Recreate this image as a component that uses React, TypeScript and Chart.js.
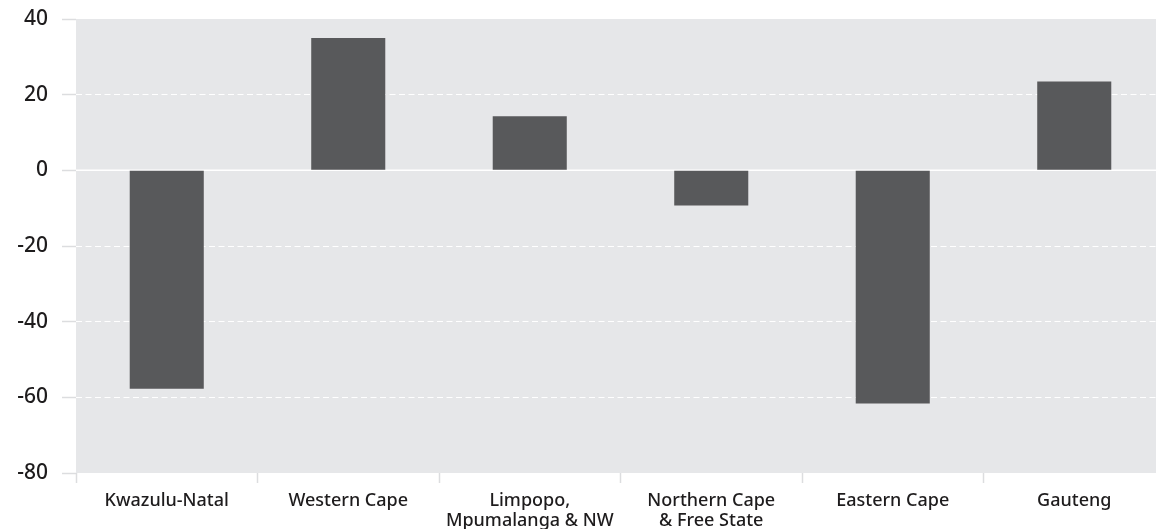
import React, { useEffect, useRef } from 'react';
import { Chart, registerables } from 'chart.js';

Chart.register(...registerables);

const categories: (string | string[])[] = [
  'Kwazulu-Natal',
  'Western Cape',
  ['Limpopo,', 'Mpumalanga & NW'],
  ['Northern Cape', '& Free State'],
  'Eastern Cape',
  'Gauteng',
];
const values = [-57.7, 35.0, 14.3, -9.3, -61.6, 23.5];
const yMin = -80;
const yMax = 40;
const yStep = 20;

const PLOT_BG = '#e6e7e9';
const BAR = '#58595b';
const TEXT = '#1e1c1d';
const TICK = '#dcdddf';
const FONT = '"Noto Sans", sans-serif';

const bgPlugin = {
  id: 'plotBg',
  beforeDraw(chart: any) {
    const { ctx, chartArea } = chart;
    ctx.save();
    ctx.fillStyle = PLOT_BG;
    ctx.fillRect(chartArea.left, chartArea.top, chartArea.right - chartArea.left, chartArea.bottom - chartArea.top);
    ctx.restore();
  },
};

const zeroLinePlugin = {
  id: 'zeroLine',
  beforeDatasetsDraw(chart: any) {
    const { ctx, chartArea } = chart;
    const y = chart.scales.y.getPixelForValue(0);
    ctx.save();
    ctx.strokeStyle = '#ffffff';
    ctx.lineWidth = 1.5;
    ctx.beginPath();
    ctx.moveTo(chartArea.left, y);
    ctx.lineTo(chartArea.right, y);
    ctx.stroke();
    ctx.restore();
  },
};

export default function App() {
  const ref = useRef<HTMLCanvasElement>(null);
  useEffect(() => {
    if (!ref.current) return;
    const chart = new Chart(ref.current, {
      type: 'bar',
      data: {
        labels: categories as any,
        datasets: [
          {
            data: values,
            backgroundColor: BAR,
            borderWidth: 0,
            barPercentage: 0.408,
            categoryPercentage: 1,
          },
        ],
      },
      options: {
        responsive: false,
        animation: false,
        layout: { padding: { top: 19, left: 0, right: 0, bottom: 0 } },
        plugins: { legend: { display: false }, tooltip: { enabled: false } },
        scales: {
          x: {
            grid: {
              offset: true,
              drawOnChartArea: false,
              drawTicks: true,
              tickLength: 10,
              tickColor: TICK,
              tickWidth: 1.5,
            },
            border: { display: false },
            ticks: {
              color: TEXT,
              font: { family: FONT, size: 18, weight: '500', lineHeight: 1.1 },
              padding: 8,
              maxRotation: 0,
              autoSkip: false,
            },
            afterFit(scale: any) {
              scale.height = 56;
              scale.paddingLeft = 0;
              scale.paddingRight = 0;
            },
          },
          y: {
            min: yMin,
            max: yMax,
            grid: {
              color: (ctx: any) => {
                const v = ctx.tick ? ctx.tick.value : null;
                if (v === yMin || v === yMax || v === 0) return 'rgba(0,0,0,0)';
                return '#ffffff';
              },
              lineWidth: 1,
              drawTicks: true,
              tickLength: 14,
              tickColor: TICK,
              tickWidth: 1.5,
            },
            border: { display: false, dash: [6, 3.5] },
            ticks: {
              stepSize: yStep,
              color: TEXT,
              font: { family: FONT, size: 21, weight: '500' },
              padding: 14,
            },
            afterFit(scale: any) {
              scale.width = 76;
              scale.paddingTop = 0;
              scale.paddingBottom = 0;
            },
          },
        },
      },
      plugins: [bgPlugin, zeroLinePlugin],
    });
    return () => chart.destroy();
  }, []);
  return (
    <div style={{ position: 'fixed', left: 0, top: 0, width: 1156, height: 529, overflow: 'hidden', background: '#fff' }}>
      <canvas ref={ref} width={1165} height={529} style={{ display: 'block' }} />
    </div>
  );
}
